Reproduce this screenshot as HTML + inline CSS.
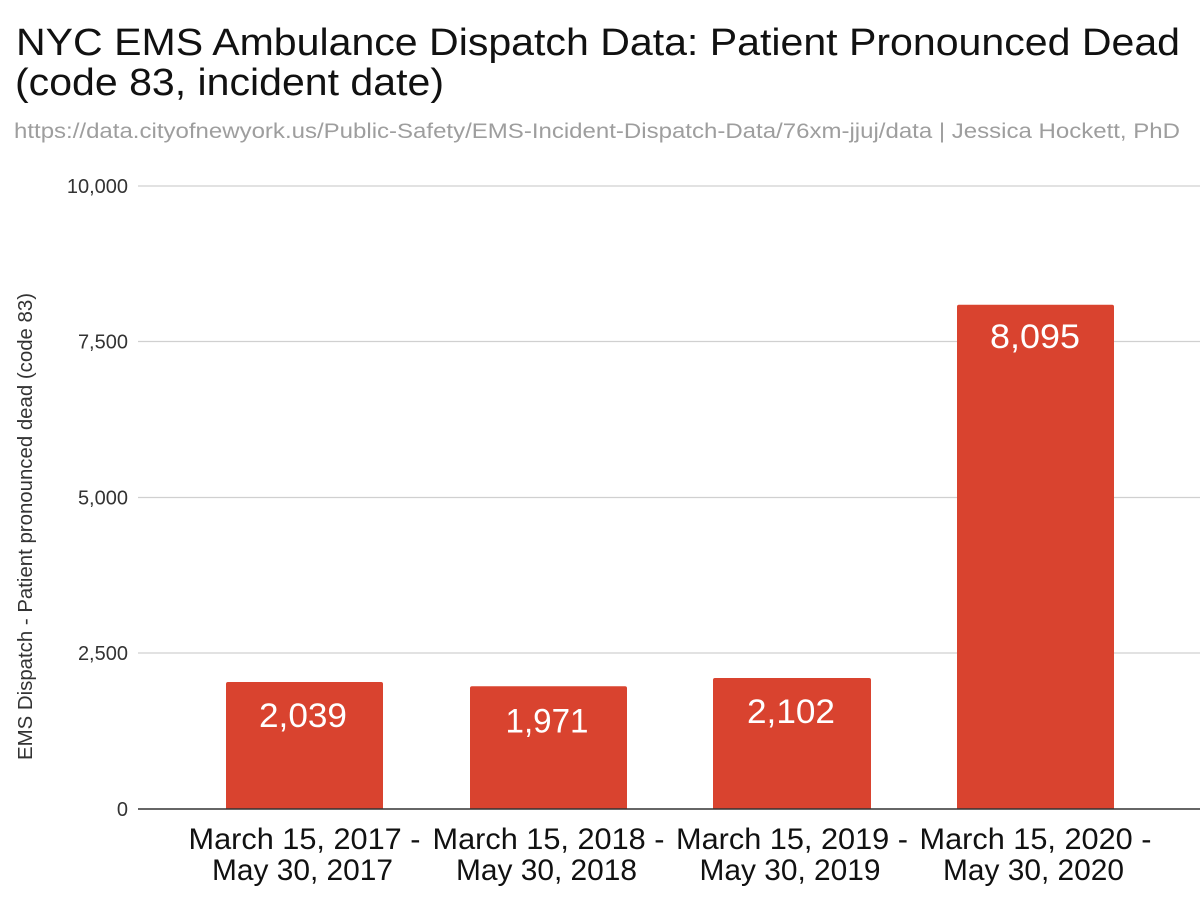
<!DOCTYPE html>
<html>
<head>
<meta charset="utf-8">
<style>
  html, body { margin:0; padding:0; background:#fff; }
  svg { display:block; }
  text { font-family: "Liberation Sans", Arial, sans-serif; }
</style>
</head>
<body>
<svg width="1200" height="914" viewBox="0 0 1200 914" xmlns="http://www.w3.org/2000/svg">
  <rect x="0" y="0" width="1200" height="914" fill="#ffffff"/>

  <!-- Title -->
  <text x="16" y="55" font-size="38" fill="#111" textLength="1164" lengthAdjust="spacingAndGlyphs">NYC EMS Ambulance Dispatch Data: Patient Pronounced Dead</text>
  <text x="15" y="95" font-size="38" fill="#111" textLength="429" lengthAdjust="spacingAndGlyphs">(code 83, incident date)</text>

  <!-- Subtitle -->
  <text x="14" y="138" font-size="21" fill="#9e9e9e" textLength="1166" lengthAdjust="spacingAndGlyphs">https://data.cityofnewyork.us/Public-Safety/EMS-Incident-Dispatch-Data/76xm-jjuj/data | Jessica Hockett, PhD</text>

  <!-- Gridlines -->
  <g stroke="#d0d0d0" stroke-width="1.2">
    <line x1="138" y1="186" x2="1200" y2="186"/>
    <line x1="138" y1="341.5" x2="1200" y2="341.5"/>
    <line x1="138" y1="497.5" x2="1200" y2="497.5"/>
    <line x1="138" y1="653" x2="1200" y2="653"/>
  </g>

  <!-- Y tick labels -->
  <g font-size="20" fill="#333" text-anchor="end">
    <text x="128" y="193">10,000</text>
    <text x="128" y="348.5">7,500</text>
    <text x="128" y="504.5">5,000</text>
    <text x="128" y="660">2,500</text>
    <text x="128" y="816">0</text>
  </g>

  <!-- Y axis title -->
  <text transform="translate(32,526.5) rotate(-90)" font-size="20" fill="#333" text-anchor="middle" textLength="467" lengthAdjust="spacingAndGlyphs">EMS Dispatch - Patient pronounced dead (code 83)</text>

  <!-- Bars -->
  <g fill="#d9432f">
    <path d="M226,809 L226,684 Q226,682 228,682 L381,682 Q383,682 383,684 L383,809 Z"/>
    <path d="M470,809 L470,688.2 Q470,686.2 472,686.2 L625,686.2 Q627,686.2 627,688.2 L627,809 Z"/>
    <path d="M713,809 L713,680 Q713,678 715,678 L869,678 Q871,678 871,680 L871,809 Z"/>
    <path d="M957,809 L957,306.7 Q957,304.7 959,304.7 L1112,304.7 Q1114,304.7 1114,306.7 L1114,809 Z"/>
  </g>

  <!-- Bar labels -->
  <g font-size="34" fill="#ffffff" text-anchor="middle">
    <text x="303" y="727" textLength="88" lengthAdjust="spacingAndGlyphs">2,039</text>
    <text x="547" y="732.5" textLength="83" lengthAdjust="spacingAndGlyphs">1,971</text>
    <text x="791" y="723" textLength="88" lengthAdjust="spacingAndGlyphs">2,102</text>
    <text x="1035" y="348" textLength="90" lengthAdjust="spacingAndGlyphs">8,095</text>
  </g>

  <!-- Baseline -->
  <line x1="138" y1="809" x2="1200" y2="809" stroke="#333" stroke-width="1.6"/>

  <!-- X labels -->
  <g font-size="30" fill="#111" text-anchor="middle">
    <text x="304.5" y="849" textLength="232" lengthAdjust="spacingAndGlyphs">March 15, 2017 -</text>
    <text x="302.5" y="880" textLength="181" lengthAdjust="spacingAndGlyphs">May 30, 2017</text>
    <text x="548.5" y="849" textLength="232" lengthAdjust="spacingAndGlyphs">March 15, 2018 -</text>
    <text x="546.5" y="880" textLength="181" lengthAdjust="spacingAndGlyphs">May 30, 2018</text>
    <text x="792" y="849" textLength="232" lengthAdjust="spacingAndGlyphs">March 15, 2019 -</text>
    <text x="790" y="880" textLength="181" lengthAdjust="spacingAndGlyphs">May 30, 2019</text>
    <text x="1035.5" y="849" textLength="232" lengthAdjust="spacingAndGlyphs">March 15, 2020 -</text>
    <text x="1033.5" y="880" textLength="181" lengthAdjust="spacingAndGlyphs">May 30, 2020</text>
  </g>
</svg>
</body>
</html>
